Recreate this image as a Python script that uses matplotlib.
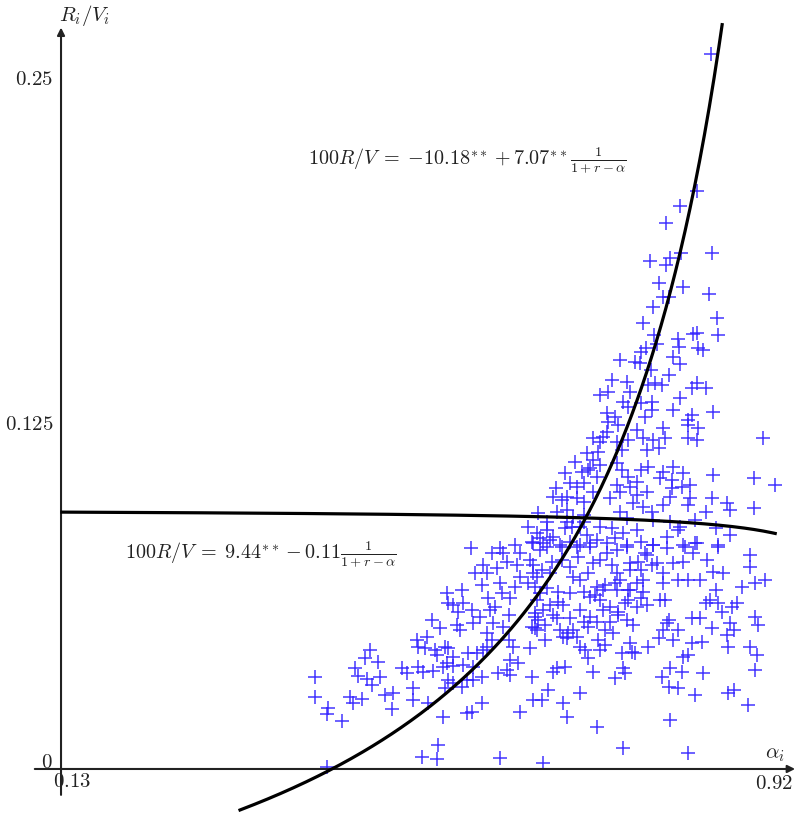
import numpy as np
import matplotlib
matplotlib.use('Agg')
import matplotlib.pyplot as plt

plt.rcParams['mathtext.fontset'] = 'cm'
plt.rcParams['font.family'] = 'serif'
plt.rcParams['font.serif'] = ['DejaVu Serif']

# Scatter data: alpha_i (x) and R_i/V_i (y)
alpha_i = [
    0.411, 0.411, 0.425, 0.424, 0.441, 0.424, 0.455, 0.458, 0.466, 0.472,
    0.481, 0.483, 0.474, 0.469, 0.450, 0.463, 0.453, 0.488, 0.497, 0.496,
    0.507, 0.513, 0.519, 0.519, 0.524, 0.525, 0.535, 0.533, 0.525, 0.530,
    0.542, 0.536, 0.544, 0.546, 0.540, 0.549, 0.557, 0.558, 0.564, 0.555,
    0.558, 0.564, 0.557, 0.553, 0.558, 0.555, 0.564, 0.553, 0.571, 0.568,
    0.574, 0.575, 0.569, 0.564, 0.575, 0.574, 0.579, 0.579, 0.585, 0.580,
    0.586, 0.586, 0.585, 0.586, 0.594, 0.596, 0.590, 0.597, 0.596, 0.588,
    0.596, 0.597, 0.601, 0.607, 0.602, 0.601, 0.607, 0.601, 0.608, 0.610,
    0.605, 0.612, 0.616, 0.618, 0.613, 0.619, 0.616, 0.547, 0.546, 0.529,
    0.623, 0.625, 0.627, 0.623, 0.630, 0.627, 0.619, 0.625, 0.627, 0.632,
    0.634, 0.638, 0.636, 0.638, 0.649, 0.651, 0.646, 0.649, 0.652, 0.654,
    0.654, 0.652,
    0.662, 0.669, 0.674, 0.679, 0.688, 0.685, 0.690, 0.704, 0.663, 0.723,
    0.719, 0.713, 0.704, 0.710, 0.726, 0.743, 0.752, 0.754, 0.752, 0.751,
    0.762, 0.765, 0.779, 0.759, 0.763, 0.756, 0.746, 0.741, 0.732, 0.724,
    0.685, 0.691, 0.696, 0.708, 0.723, 0.737, 0.665, 0.657, 0.665, 0.679,
    0.693, 0.704, 0.715, 0.680, 0.671, 0.685, 0.657, 0.660, 0.654, 0.668,
    0.680, 0.693, 0.708, 0.721, 0.729, 0.726, 0.746, 0.754, 0.767, 0.778,
    0.757, 0.771, 0.745, 0.757, 0.774, 0.793, 0.798, 0.791, 0.807, 0.800,
    0.796, 0.812, 0.802, 0.818, 0.823, 0.804, 0.817, 0.795, 0.802, 0.813,
    0.840, 0.831, 0.804, 0.823, 0.828, 0.839, 0.828, 0.837, 0.850, 0.843,
    0.848, 0.857, 0.861, 0.854, 0.872, 0.878, 0.870, 0.874, 0.867, 0.868,
    0.892, 0.900, 0.898, 0.874, 0.868, 0.890, 0.898, 0.901, 0.883, 0.898,
    0.909, 0.862, 0.851, 0.845, 0.837, 0.823, 0.812, 0.796, 0.892, 0.892,
    0.857, 0.820, 0.829, 0.831, 0.800, 0.785, 0.789, 0.768, 0.778, 0.759,
    0.748, 0.796, 0.807, 0.818,
    0.756, 0.759, 0.735, 0.779, 0.787, 0.795, 0.802, 0.834, 0.828, 0.815,
    0.752, 0.757, 0.771, 0.784, 0.784, 0.807, 0.828, 0.824, 0.851, 0.824,
    0.835, 0.734, 0.743, 0.735, 0.746, 0.776, 0.767, 0.796, 0.798, 0.785,
    0.774, 0.823, 0.834, 0.906, 0.734, 0.730, 0.719, 0.726, 0.757, 0.745,
    0.751, 0.778, 0.791, 0.724, 0.712, 0.699, 0.719, 0.726, 0.715, 0.688,
    0.706, 0.713, 0.723, 0.745, 0.751, 0.757, 0.771, 0.779, 0.767, 0.793,
    0.796, 0.807, 0.818, 0.806, 0.851, 0.896, 0.920, 0.826, 0.817, 0.806,
    0.677, 0.693, 0.701, 0.708, 0.718, 0.745, 0.748, 0.759, 0.767, 0.778,
    0.674, 0.684, 0.690, 0.701, 0.708, 0.737, 0.763, 0.774, 0.796, 0.804,
    0.823, 0.826, 0.850, 0.867, 0.870, 0.896, 0.843, 0.658, 0.679, 0.690,
    0.696, 0.708, 0.748, 0.756, 0.784, 0.785, 0.804, 0.815, 0.812, 0.831,
    0.854, 0.870, 0.647, 0.657, 0.668, 0.660, 0.674, 0.688, 0.704, 0.712,
    0.726, 0.740, 0.752, 0.767, 0.785, 0.800, 0.818, 0.834, 0.857,
    0.849, 0.834, 0.815, 0.799, 0.816, 0.804, 0.799, 0.781, 0.850, 0.792,
    0.818, 0.796, 0.802, 0.847, 0.785, 0.856, 0.774, 0.786, 0.834, 0.829,
    0.857, 0.789, 0.777, 0.813, 0.814, 0.835, 0.840, 0.772, 0.807, 0.748,
    0.765, 0.770, 0.815, 0.740, 0.783, 0.843, 0.726,
    0.651, 0.660, 0.652, 0.662, 0.657, 0.671, 0.673, 0.684, 0.693, 0.702,
    0.696, 0.704, 0.713, 0.718, 0.726, 0.734, 0.740, 0.745, 0.743, 0.732,
    0.723, 0.715, 0.729, 0.737, 0.759, 0.767, 0.774, 0.771, 0.759, 0.776,
    0.784, 0.756, 0.745, 0.715, 0.704, 0.684, 0.668, 0.654, 0.658, 0.651,
    0.663, 0.674, 0.682, 0.690, 0.701, 0.713, 0.732,
    0.652, 0.663, 0.671, 0.682, 0.693, 0.701, 0.715, 0.723, 0.734, 0.743,
    0.756, 0.771, 0.690, 0.695, 0.708, 0.668, 0.583, 0.632, 0.616, 0.638,
]
rv_i = [
    0.0334, 0.0261, 0.0221, 0.0200, 0.0174, 0.0007, 0.0366, 0.0337, 0.0403, 0.0432,
    0.0388, 0.0334, 0.0305, 0.0327, 0.0261, 0.0254, 0.0239, 0.0269, 0.0276, 0.0218,
    0.0366, 0.0348, 0.0294, 0.0250, 0.0468, 0.0443, 0.0479, 0.0439, 0.0370, 0.0352,
    0.0356, 0.0239, 0.0432, 0.0414, 0.0541, 0.0512, 0.0639, 0.0602, 0.0595, 0.0443,
    0.0439, 0.0406, 0.0385, 0.0370, 0.0323, 0.0294, 0.0312, 0.0189, 0.0504, 0.0522,
    0.0649, 0.0602, 0.0570, 0.0374, 0.0377, 0.0298, 0.0323, 0.0203, 0.0207, 0.0421,
    0.0370, 0.0323, 0.0577, 0.0530, 0.0552, 0.0239, 0.0421, 0.0432, 0.0334, 0.0711,
    0.0668, 0.0740, 0.0711, 0.0784, 0.0620, 0.0493, 0.0468, 0.0443, 0.0530, 0.0588,
    0.0577, 0.0729, 0.0675, 0.0639, 0.0348, 0.0784, 0.0040, 0.0087, 0.0036, 0.0044,
    0.0751, 0.0468, 0.0395, 0.0359, 0.0443, 0.0341, 0.0515, 0.0559, 0.0620, 0.0660,
    0.0740, 0.0697, 0.0385, 0.0207, 0.0439, 0.0334, 0.0675, 0.0758, 0.0711, 0.0552,
    0.0512, 0.0250,
    0.0250, 0.0287, 0.0352, 0.0366, 0.0370, 0.0239, 0.0189, 0.0276, 0.0022, 0.0152,
    0.0352, 0.0403, 0.0443, 0.0432, 0.0432, 0.0330, 0.0366, 0.0348, 0.0076, 0.0421,
    0.0425, 0.0421, 0.0443, 0.0457, 0.0522, 0.0541, 0.0559, 0.0493, 0.0504, 0.0468,
    0.0479, 0.0493, 0.0504, 0.0533, 0.0533, 0.0533, 0.0468, 0.0504, 0.0522, 0.0548,
    0.0548, 0.0577, 0.0552, 0.0606, 0.0595, 0.0595, 0.0613, 0.0639, 0.0660, 0.0657,
    0.0642, 0.0639, 0.0642, 0.0631, 0.0649, 0.0613, 0.0570, 0.0602, 0.0588, 0.0595,
    0.0613, 0.0620, 0.0649, 0.0649, 0.0642, 0.0613, 0.0613, 0.0475, 0.0468, 0.0530,
    0.0504, 0.0504, 0.0541, 0.0406, 0.0414, 0.0366, 0.0352, 0.0334, 0.0298, 0.0294,
    0.0348, 0.0269, 0.0178, 0.0058, 0.0457, 0.0461, 0.0548, 0.0548, 0.0512, 0.0602,
    0.0613, 0.0602, 0.0570, 0.0649, 0.0588, 0.0602, 0.0530, 0.0504, 0.0486, 0.0443,
    0.0443, 0.0414, 0.0359, 0.0287, 0.0276, 0.0232, 0.0552, 0.0522, 0.0660, 0.0675,
    0.0686, 0.0711, 0.0715, 0.0758, 0.0686, 0.0686, 0.0686, 0.0675, 0.0776, 0.0733,
    0.0806, 0.0806, 0.0784, 0.0820, 0.0802, 0.0813, 0.0747, 0.0751, 0.0776, 0.0722,
    0.0686, 0.0711, 0.0747, 0.0751,
    0.1404, 0.1368, 0.1368, 0.1393, 0.1401, 0.1393, 0.1430, 0.1401, 0.1382, 0.1346,
    0.1332, 0.1313, 0.1328, 0.1332, 0.1303, 0.1303, 0.1284, 0.1266, 0.1295, 0.1248,
    0.1237, 0.1292, 0.1277, 0.1259, 0.1248, 0.1277, 0.1230, 0.1237, 0.1201, 0.1194,
    0.1201, 0.1201, 0.1194, 0.1201, 0.1223, 0.1205, 0.1201, 0.1186, 0.1194, 0.1186,
    0.1157, 0.1157, 0.1165, 0.1150, 0.1147, 0.1114, 0.1121, 0.1103, 0.1092, 0.1074,
    0.1078, 0.1085, 0.1060, 0.1110, 0.1085, 0.1060, 0.1085, 0.1096, 0.1041, 0.1056,
    0.1078, 0.1096, 0.1074, 0.1049, 0.1067, 0.1056, 0.1030, 0.1030, 0.1023, 0.1020,
    0.1020, 0.1038, 0.1023, 0.1038, 0.1005, 0.1030, 0.1005, 0.1023, 0.0994, 0.1005,
    0.0987, 0.0976, 0.0987, 0.0983, 0.0969, 0.0983, 0.0965, 0.0951, 0.0958, 0.0987,
    0.0958, 0.0983, 0.0983, 0.0965, 0.0940, 0.0947, 0.0933, 0.0929, 0.0933, 0.0940,
    0.0914, 0.0922, 0.0933, 0.0911, 0.0933, 0.0903, 0.0896, 0.0878, 0.0867, 0.0903,
    0.0874, 0.0849, 0.0878, 0.0856, 0.0867, 0.0838, 0.0842, 0.0874, 0.0878, 0.0849,
    0.0878, 0.0874, 0.0856, 0.0867, 0.0813, 0.0842, 0.0813, 0.0820, 0.0813,
    0.2594, 0.2097, 0.2043, 0.1981, 0.1872, 0.1854, 0.1829, 0.1843, 0.1872, 0.1763,
    0.1749, 0.1713, 0.1713, 0.1724, 0.1676, 0.1636, 0.1618, 0.1575, 0.1582, 0.1578,
    0.1575, 0.1542, 0.1528, 0.1560, 0.1531, 0.1528, 0.1520, 0.1513, 0.1495, 0.1484,
    0.1477, 0.1473, 0.1469, 0.1411, 0.1448, 0.1382, 0.1357,
    0.0824, 0.0795, 0.0740, 0.0722, 0.0697, 0.0711, 0.0751, 0.0758, 0.0733, 0.0769,
    0.0697, 0.0686, 0.0711, 0.0747, 0.0758, 0.0784, 0.0740, 0.0711, 0.0675, 0.0668,
    0.0660, 0.0624, 0.0577, 0.0588, 0.0649, 0.0675, 0.0686, 0.0722, 0.0747, 0.0784,
    0.0740, 0.0806, 0.0795, 0.0806, 0.0813, 0.0806, 0.0806, 0.0566, 0.0541, 0.0515,
    0.0577, 0.0559, 0.0504, 0.0475, 0.0479, 0.0515, 0.0450,
    0.0820, 0.0820, 0.0831, 0.0813, 0.0824, 0.0806, 0.0820, 0.0831, 0.0820, 0.0838,
    0.0813, 0.0824, 0.0896, 0.0878, 0.0896, 0.0896, 0.0802, 0.0813, 0.0802, 0.0784,
]

# Fitted curves, y = a + b / (c - alpha)
steep_a, steep_b, steep_c = -0.1018, 0.0605, 1.024
steep_from, steep_to = 0.328, 0.8613
flat_a, flat_b, flat_c = 0.0944, -0.0011, 1.043
flat_from, flat_to = 0.131, 0.92

x_ticks = [0.13, 0.92]
y_ticks = [0, 0.125, 0.25]

fig = plt.figure(figsize=(7.96, 8.13), dpi=100)
ax = fig.add_axes([0, 0, 1, 1])
ax.set_xlim(0.0625, 0.943)
ax.set_ylim(-0.01597, 0.2790)
ax.axis('off')

# axes with arrows
arrow = dict(arrowstyle='-|>', lw=1.5, color='#222222', mutation_scale=11,
             shrinkA=0, shrinkB=0)
ax.annotate('', xy=(0.13, 0.2690), xytext=(0.13, -0.0094), arrowprops=arrow)
ax.annotate('', xy=(0.942, 0), xytext=(0.101, 0), arrowprops=arrow)

# scatter
ax.plot(alpha_i, rv_i, linestyle='none', marker='+', markersize=10,
        markeredgewidth=1.1, color='#3020ff', alpha=0.9, zorder=2)

# curves
xs = np.linspace(steep_from, steep_to, 300)
ax.plot(xs, steep_a + steep_b / (steep_c - xs), color='black', lw=2.3, zorder=3)
xf = np.linspace(flat_from, flat_to, 300)
ax.plot(xf, flat_a + flat_b / (flat_c - xf), color='black', lw=2.3, zorder=3)

fs = 15
ax.text(0.5792, 0.2206,
        r'$100R/V\;=\;{-}10.18^{**}+7.07^{**}\frac{1}{1+r-\alpha}$',
        fontsize=fs - 0.5, ha='center', va='center', color='#222222')
ax.text(0.3513, 0.0776,
        r'$100R/V\;=\;9.44^{**}-0.11\frac{1}{1+r-\alpha}$',
        fontsize=fs - 0.5, ha='center', va='center', color='#222222')

# tick labels
for yv, yt in zip(y_ticks, [0.0025, 0.125, 0.25]):
    ax.text(0.1211, yt, r'$%s$' % ('%g' % yv), fontsize=fs, ha='right',
            va='center', color='#222222')
ax.text(0.1211, -0.0047, r'$%g$' % x_ticks[0], fontsize=fs, ha='left',
        va='center', color='#222222')
ax.text(0.9399, -0.0051, r'$%g$' % x_ticks[1], fontsize=fs, ha='right',
        va='center', color='#222222')

ax.text(0.1565, 0.2732, r'$R_i/V_i$', fontsize=fs, ha='center', va='center',
        color='#222222')
ax.text(0.919, 0.0051, r'$\alpha_i$', fontsize=fs, ha='center', va='center',
        color='#222222')

fig.savefig('out.png', dpi=100, facecolor='white')
